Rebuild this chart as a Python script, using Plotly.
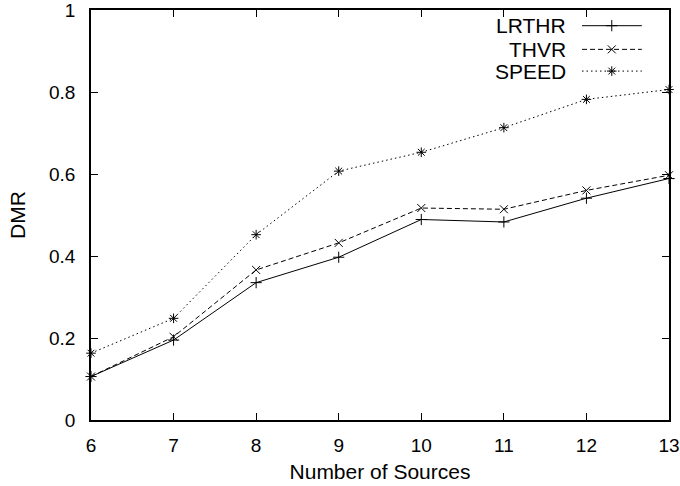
import plotly.graph_objects as go

sources = [6, 7, 8, 9, 10, 11, 12, 13]
lrthr = [0.106, 0.195, 0.335, 0.397, 0.489, 0.483, 0.541, 0.589]
thvr = [0.106, 0.203, 0.366, 0.432, 0.517, 0.514, 0.560, 0.597]
speed = [0.163, 0.248, 0.452, 0.607, 0.653, 0.713, 0.782, 0.806]
series_names = ["LRTHR", "THVR", "SPEED"]
x_ticks = [6, 7, 8, 9, 10, 11, 12, 13]
y_ticks = [0, 0.2, 0.4, 0.6, 0.8, 1]
y_tick_text = ["0", "0.2", "0.4", "0.6", "0.8", "1"]

FONT = "Liberation Sans, Arial, sans-serif"
styles = [
    dict(dash="solid", symbol="cross-thin-open"),
    dict(dash="5px,3px", symbol="x-thin-open"),
    dict(dash="1.5px,3px", symbol="asterisk-open"),
]

fig = go.Figure()
for name, vals, st in zip(series_names, [lrthr, thvr, speed], styles):
    fig.add_trace(go.Scatter(
        x=sources, y=vals, mode="lines+markers", name=name,
        line=dict(color="black", width=1, dash=st["dash"]),
        marker=dict(symbol=st["symbol"], size=8, color="black",
                    line=dict(color="black", width=1)),
        showlegend=False, cliponaxis=False,
    ))

# custom gnuplot-style legend (text left, sample right)
leg_rows = [0.9617, 0.904, 0.851]
for name, st, yy in zip(series_names, styles, leg_rows):
    fig.add_trace(go.Scatter(
        x=[0.8495, 0.901, 0.953], y=[yy, yy, yy], xaxis="x2", yaxis="y2",
        mode="lines", line=dict(color="black", width=1, dash=st["dash"]),
        showlegend=False, hoverinfo="skip",
    ))
    fig.add_trace(go.Scatter(
        x=[0.901], y=[yy], xaxis="x2", yaxis="y2", mode="markers",
        marker=dict(symbol=st["symbol"], size=8, color="black",
                    line=dict(color="black", width=1)),
        showlegend=False, hoverinfo="skip",
    ))
    fig.add_annotation(x=0.825, y=yy, xref="paper", yref="paper",
                       text=name, showarrow=False, xanchor="right",
                       yanchor="middle",
                       font=dict(family=FONT, size=21, color="black"))

axis_common = dict(
    showgrid=False, zeroline=False, showline=True, linecolor="black",
    linewidth=1.5, mirror="ticks", ticks="inside", ticklen=7,
    tickcolor="black", tickwidth=1, automargin=False,
    ticklabeloverflow="allow",
    tickfont=dict(family=FONT, size=19, color="black"),
)

fig.update_layout(
    width=680, height=486,
    margin=dict(l=91, r=11, t=10, b=66),
    paper_bgcolor="white", plot_bgcolor="white",
    xaxis=dict(range=[6, 13], tickvals=x_ticks,
               title=dict(text="Number of Sources",
                          font=dict(family=FONT, size=21, color="black"),
                          standoff=10),
               ticklabelstandoff=7, **axis_common),
    yaxis=dict(range=[0, 1], tickvals=y_ticks, ticktext=y_tick_text,
               title=dict(text="DMR",
                          font=dict(family=FONT, size=21, color="black"),
                          standoff=18),
               ticklabelstandoff=10, **axis_common),
    xaxis2=dict(range=[0, 1], overlaying="x", visible=False),
    yaxis2=dict(range=[0, 1], overlaying="y", visible=False),
    showlegend=False,
)

fig.write_html("out.html")
